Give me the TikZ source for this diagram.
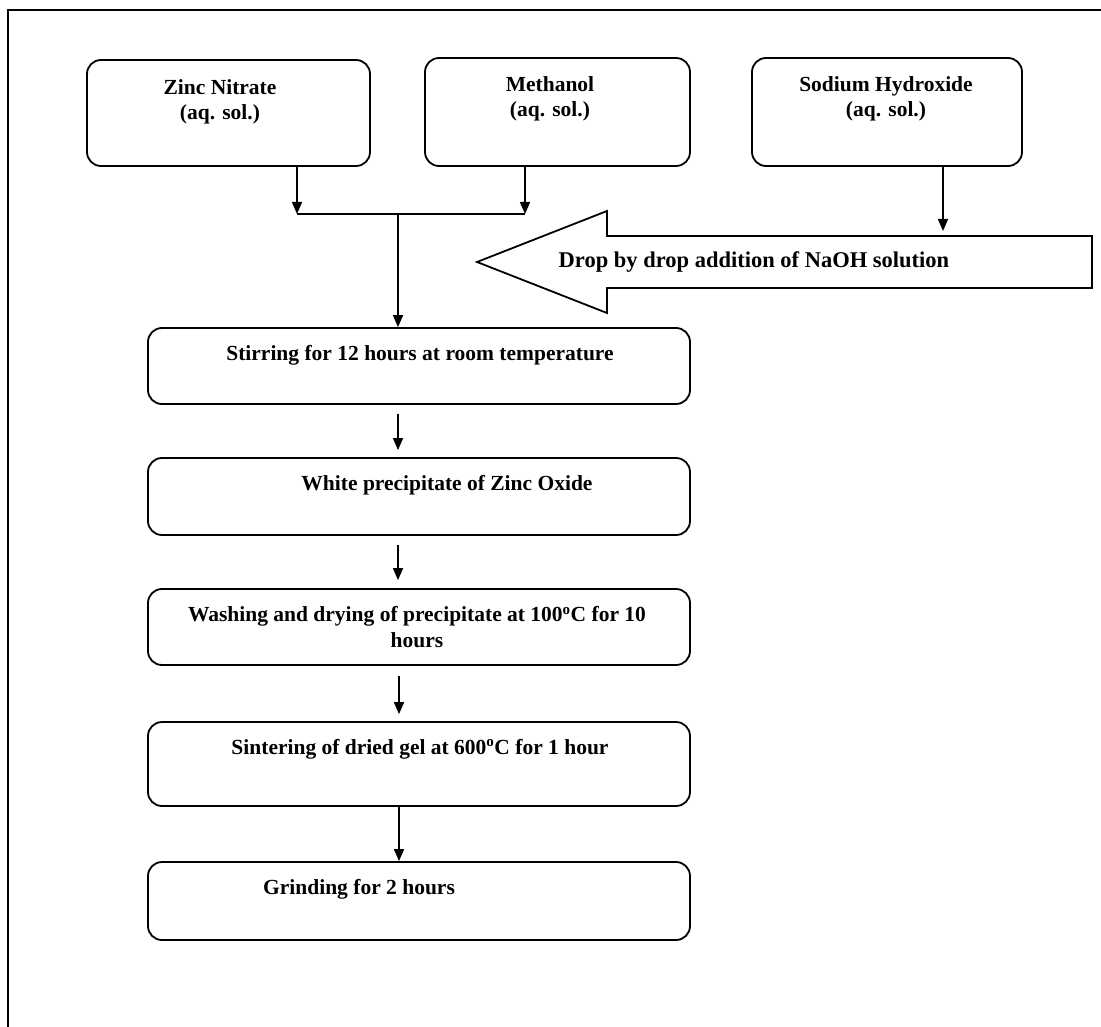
\documentclass[tikz,border=0pt]{standalone}
\usepackage{fontspec}
\setmainfont{Liberation Serif}
\usetikzlibrary{arrows.meta}
\tikzset{
  box/.style={draw=black, line width=1.8pt, rounded corners=14pt, inner sep=0pt, minimum width=#1},
  box/.default=542pt,
  lbl/.style={inner sep=0pt, align=center, font=\bfseries\fontsize{21.5}{25.5}\selectfont},
  arr/.style={draw=black, line width=1.6pt, -{Triangle[length=12pt,width=10pt]}},
  ln/.style={draw=black, line width=1.6pt},
}
\begin{document}
\begin{tikzpicture}[x=1pt,y=-1pt]
\useasboundingbox (0,0) rectangle (1101,1027);
% outer frame
\draw[line width=2.2pt] (8,1030) -- (8,10) -- (1105,10);
% top boxes
\node[box=283pt, minimum height=106pt] (zn) at (228.5,113) {};
\node[box=265pt, minimum height=108pt] (me) at (557.5,112) {};
\node[box=270pt, minimum height=108pt] (na) at (887,112) {};
\node[lbl] (znt) at (220,102) {Zinc Nitrate\\(aq. sol.)};
\node[lbl] (met) at (550,99) {Methanol\\(aq. sol.)};
\node[lbl] (nat) at (886,99) {Sodium Hydroxide\\(aq. sol.)};
% junction
\coordinate (j1) at (297,214);
\coordinate (j2) at (525,214);
\coordinate (jm) at (398,214);
\draw[arr] (zn.south -| j1) -- (j1);
\draw[arr] (me.south -| j2) -- (j2);
\draw[ln] (j1) -- (j2);
% big arrow
\draw[line width=1.8pt, line join=miter] (477,262) -- (607,211) -- (607,236) -- (1092,236) -- (1092,288) -- (607,288) -- (607,313) -- cycle;
\node[lbl, font=\bfseries\fontsize{22.5}{26}\selectfont] (drop) at (754,262) {Drop by drop addition of NaOH solution};
\coordinate (nad) at (943,231);
\draw[arr] (na.south -| nad) -- (nad);
% process boxes
\node[box, minimum height=76pt] (stir) at (419,366) {};
\node[box, minimum height=77pt] (white) at (419,496.5) {};
\node[box, minimum height=76pt] (wash) at (419,627) {};
\node[box, minimum height=84pt] (sint) at (419,764) {};
\node[box, minimum height=78pt] (grind) at (419,901) {};
\node[lbl] (stirt) at (420,355) {Stirring for 12 hours at room temperature};
\node[lbl] (whitet) at (447,485) {White precipitate of Zinc Oxide};
\node[lbl] (washt) at (417,627) {Washing and drying of precipitate at 100\textsuperscript{o}C for 10\\hours};
\node[lbl] (sintt) at (420,749) {Sintering of dried gel at 600\textsuperscript{o}C for 1 hour};
\node[lbl] (grindt) at (359,889) {Grinding for 2 hours};
% connectors
\draw[arr] (jm) -- (stir.north -| jm);
\draw[arr] ([yshift=-9pt]stir.south -| 398,0) -- ([yshift=7pt]white.north -| 398,0);
\draw[arr] ([yshift=-9pt]white.south -| 398,0) -- ([yshift=8pt]wash.north -| 398,0);
\draw[arr] ([yshift=-10pt]wash.south -| 399,0) -- ([yshift=7pt]sint.north -| 399,0);
\draw[arr] (sint.south -| 399,0) -- (grind.north -| 399,0);
\end{tikzpicture}
\end{document}
